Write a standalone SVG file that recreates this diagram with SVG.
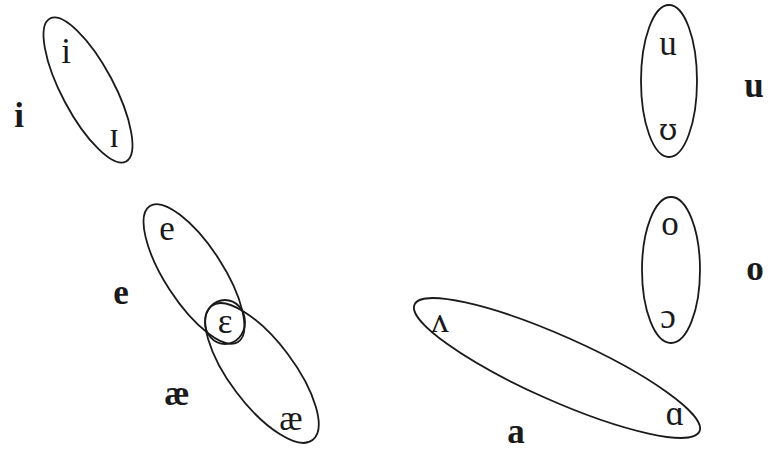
<svg xmlns="http://www.w3.org/2000/svg" width="768" height="452" viewBox="0 0 768 452">
<style>
.ell{fill:none;stroke:#1a1a1a;stroke-width:1.8}
.t{font-family:"Liberation Serif","DejaVu Serif",serif;font-size:35px;fill:#1a1a1a;text-anchor:middle}
.lb{font-weight:bold}
.dv{font-family:"DejaVu Serif",serif;font-size:30px}
</style>
<rect width="768" height="452" fill="#ffffff"/>
<g id="node-i">
<ellipse class="ell" cx="88" cy="90" rx="81" ry="26" transform="rotate(62 88 90)"/>
<text class="t" x="66" y="63">i</text>
<text class="t" x="114" y="147">ɪ</text>
</g>
<g id="label-i"><text class="t lb" x="19" y="127">i</text></g>
<g id="node-e">
<ellipse class="ell" cx="194" cy="274" rx="81" ry="29" transform="rotate(57 194 274)"/>
<text class="t" x="167" y="240">e</text>
</g>
<g id="node-epsilon">
<ellipse class="ell" cx="225" cy="322" rx="20" ry="22"/>
<text class="t" x="225" y="333">ε</text>
</g>
<g id="node-ae">
<ellipse class="ell" cx="262" cy="373" rx="84" ry="32" transform="rotate(53 262 373)"/>
<text class="t" x="291" y="430">æ</text>
</g>
<g id="label-e"><text class="t lb" x="121" y="304">e</text></g>
<g id="label-ae"><text class="t lb" x="177" y="405">æ</text></g>
<g id="node-a">
<ellipse class="ell" cx="557" cy="368" rx="156" ry="32" transform="rotate(24 557 368)"/>
<text class="t" x="440" y="332">ʌ</text>
<text class="t" x="675" y="425">ɑ</text>
</g>
<g id="label-a"><text class="t lb" x="516" y="443">a</text></g>
<g id="node-u">
<ellipse class="ell" cx="669" cy="81" rx="28" ry="76"/>
<text class="t" x="668" y="55">u</text>
<text class="t dv" x="668" y="140">ʊ</text>
</g>
<g id="label-u"><text class="t lb" x="754" y="97">u</text></g>
<g id="node-o">
<ellipse class="ell" cx="671" cy="270" rx="29" ry="73"/>
<text class="t" x="670" y="235">o</text>
<text class="t" x="668" y="328">ɔ</text>
</g>
<g id="label-o"><text class="t lb" x="755" y="280">o</text></g>
<g id="connectors"></g>
</svg>
